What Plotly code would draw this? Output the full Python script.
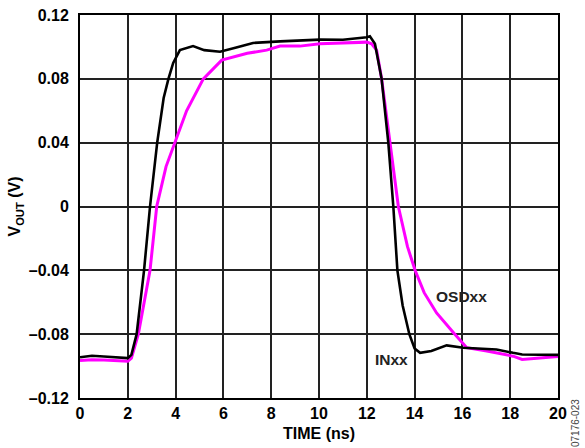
"""Pulse response: INxx vs OSDxx output voltage over time."""

import plotly.graph_objects as go

# INxx trace (ns, V)
inxx_time = [0, 0.5, 1.0, 1.5, 2.0, 2.15, 2.37, 2.68, 2.93, 3.23, 3.5, 3.7, 3.9,
             4.18, 4.5, 4.73, 5.2, 5.86, 6.5, 7.24, 8.37, 9.2, 10.04, 11.0, 12.0,
             12.13, 12.34, 12.62, 12.9, 13.11, 13.28, 13.5, 13.78, 14.0, 14.23,
             14.7, 15.34, 16.04, 17.43, 18.12, 18.5, 20]
inxx_vout = [-0.0945, -0.0935, -0.094, -0.0945, -0.095, -0.093, -0.080, -0.040,
             0.0, 0.040, 0.068, 0.080, 0.090, 0.098, 0.0995, 0.1005, 0.098, 0.097,
             0.0995, 0.1025, 0.1035, 0.104, 0.1046, 0.1045, 0.106, 0.1067, 0.102,
             0.080, 0.040, 0.0, -0.040, -0.062, -0.080, -0.089, -0.0917, -0.0905,
             -0.087, -0.0885, -0.0896, -0.0917, -0.0927, -0.093]

# OSDxx trace (ns, V)
osd_time = [0, 0.5, 1.0, 1.5, 2.0, 2.15, 2.44, 2.93, 3.21, 3.6, 3.97, 4.46, 5.16,
            5.93, 7.0, 7.81, 8.37, 9.2, 10.04, 11.0, 12.0, 12.2, 12.41, 12.62,
            12.97, 13.32, 13.7, 14.02, 14.4, 14.92, 15.62, 16.18, 17.02, 18.12,
            18.5, 20]
osd_vout = [-0.0965, -0.096, -0.0962, -0.0966, -0.097, -0.095, -0.080, -0.040,
            0.0, 0.025, 0.040, 0.060, 0.080, 0.0917, 0.096, 0.098, 0.1005, 0.1005,
            0.102, 0.1025, 0.103, 0.102, 0.098, 0.080, 0.040, 0.0, -0.025, -0.040,
            -0.054, -0.0667, -0.079, -0.0885, -0.0906, -0.0938, -0.0958, -0.094]

x_ticks = [0, 2, 4, 6, 8, 10, 12, 14, 16, 18, 20]
y_ticks = [-0.12, -0.08, -0.04, 0, 0.04, 0.08, 0.12]
y_tick_text = ["\u20130.12", "\u20130.08", "\u20130.04", "0", "0.04", "0.08", "0.12"]

FONT = "Liberation Sans, Arial, sans-serif"

fig = go.Figure()
fig.add_trace(go.Scatter(x=osd_time, y=osd_vout, mode="lines",
                         line={"color": "#FF00FF", "width": 3}, name="OSDxx"))
fig.add_trace(go.Scatter(x=inxx_time, y=inxx_vout, mode="lines",
                         line={"color": "#000000", "width": 2.6}, name="INxx"))

fig.add_annotation(x=15.97, y=-0.0563, text="<b>OSDxx</b>", showarrow=False,
                   font={"family": FONT, "size": 15.5, "color": "#222222"})
fig.add_annotation(x=13.04, y=-0.096, text="<b>INxx</b>", showarrow=False,
                   font={"family": FONT, "size": 15.5, "color": "#222222"})
fig.add_annotation(x=1.038, y=-0.065, xref="paper", yref="paper",
                   xanchor="center", yanchor="middle", text="07176-023",
                   textangle=-90, showarrow=False,
                   font={"family": FONT, "size": 10, "color": "#444444"})

fig.update_layout(
    width=585,
    height=448,
    margin={"t": 15, "r": 27, "b": 50, "l": 80, "autoexpand": False},
    paper_bgcolor="white",
    plot_bgcolor="white",
    showlegend=False,
    font={"family": FONT, "size": 15, "color": "#000000"},
)
fig.update_xaxes(
    range=[0, 20], tickvals=x_ticks, automargin=False,
    ticktext=[f"<b>{t}</b>" for t in x_ticks], ticks="", showgrid=True,
    gridcolor="#222222", gridwidth=1.5, zeroline=False,
    showline=True, linecolor="#000000", linewidth=2, mirror=True,
    tickfont={"family": FONT, "size": 16, "color": "#000000"},
    title={"text": "<b>TIME (ns)</b>", "standoff": 7,
           "font": {"family": FONT, "size": 16}},
)
fig.update_yaxes(
    range=[-0.12, 0.12], tickvals=y_ticks, automargin=False,
    ticktext=[f"<b>{t}</b>" for t in y_tick_text], ticks="",
    ticklabelstandoff=6,
    showgrid=True, gridcolor="#222222", gridwidth=1.5, zeroline=False,
    showline=True, linecolor="#000000", linewidth=2, mirror=True,
    tickfont={"family": FONT, "size": 16, "color": "#000000"},
    title={"text": "<b>V<sub>OUT</sub> (V)</b>", "standoff": 4,
           "font": {"family": FONT, "size": 16}},
)

fig.write_html(
    "out.html",
    config={"displayModeBar": False},
    post_script="document.body.style.margin = '0';",
)
